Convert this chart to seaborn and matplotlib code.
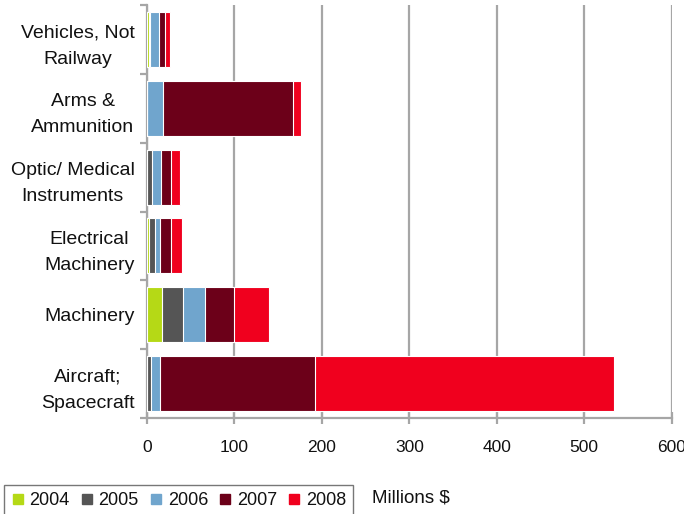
import numpy as np
import pandas as pd
import seaborn as sns
import matplotlib.pyplot as plt
from matplotlib.lines import Line2D

sns.set_theme(style="white")
plt.rcParams["font.family"] = ["Liberation Sans", "DejaVu Sans"]

# categories top to bottom
categories = [
    "Vehicles, Not\nRailway",
    "Arms &\nAmmunition",
    "Optic/ Medical\nInstruments",
    "Electrical\nMachinery",
    "Machinery",
    "Aircraft;\nSpacecraft",
]
years = ["2004", "2005", "2006", "2007", "2008"]
colors = ["#b5d916", "#555555", "#70a5cd", "#6c0019", "#f0001e"]

# values in millions $
v2004 = [2.3, 0.0, 0.0, 2.0, 16.8, 0.0]
v2005 = [1.2, 0.0, 6.2, 6.8, 24.4, 4.0]
v2006 = [10.2, 18.5, 9.5, 6.1, 24.5, 10.5]
v2007 = [6.9, 148.5, 11.4, 12.2, 33.5, 177.0]
v2008 = [6.2, 9.0, 11.1, 12.6, 39.7, 343.0]

df = pd.DataFrame(
    {"category": categories, "2004": v2004, "2005": v2005,
     "2006": v2006, "2007": v2007, "2008": v2008}
)
cum = df[years].cumsum(axis=1)
cum["category"] = df["category"]

fig, ax = plt.subplots(figsize=(6.84, 5.14), dpi=100)
fig.subplots_adjust(left=0.215, right=0.982, top=0.99, bottom=0.187)

# stacked bars: draw the running totals from the last year back to the first
for yr, col in reversed(list(zip(years, colors))):
    sns.barplot(
        data=cum, x=yr, y="category", order=categories, color=col,
        saturation=1, width=0.8, edgecolor="white", linewidth=0.8,
        ax=ax, zorder=3,
    )

grid_col = "#a6a6a6"
ax.set_xlim(0, 600)
ax.set_ylim(5.5, -0.5)
ax.set_xticks(np.arange(0, 601, 100))
ax.xaxis.grid(True, color=grid_col, linewidth=1.6)
ax.yaxis.grid(False)
ax.set_axisbelow(True)

ax.set_yticks(range(len(categories)))
ax.set_yticklabels(categories, ha="right", multialignment="center", linespacing=1.7)
ax.set_yticks(np.arange(-0.5, 5.6, 1), minor=True)
ax.tick_params(axis="y", which="major", length=0, pad=9, labelsize=14, labelcolor="#111111")
ax.tick_params(axis="y", which="minor", left=True, length=5, width=1.6, color=grid_col, direction="out")
ax.tick_params(axis="x", bottom=True, length=8, width=1.6, color=grid_col, direction="inout",
               pad=12, labelsize=12.5, labelcolor="#111111")

ax.set_xlabel("")
ax.set_ylabel("")
for side in ["top", "right"]:
    ax.spines[side].set_visible(False)
for side in ["left", "bottom"]:
    ax.spines[side].set_color(grid_col)
    ax.spines[side].set_linewidth(1.6)

handles = [
    Line2D([], [], marker="s", linestyle="none", markersize=7.5,
           markerfacecolor=c, markeredgecolor=c)
    for c in colors
]
leg = fig.legend(
    handles, years, loc="upper left", bbox_to_anchor=(0.006, 0.057), ncol=5,
    frameon=True, fontsize=13, handletextpad=0.3, columnspacing=0.6,
    borderpad=0.4, borderaxespad=0, fancybox=False, handlelength=0.7,
    labelcolor="#111111",
)
leg.get_frame().set_edgecolor("#555555")
leg.get_frame().set_linewidth(1.0)

fig.text(0.544, 0.031, "Millions $", fontsize=13.5, color="#111111", va="center", ha="left")

fig.savefig("out.png", dpi=100)
